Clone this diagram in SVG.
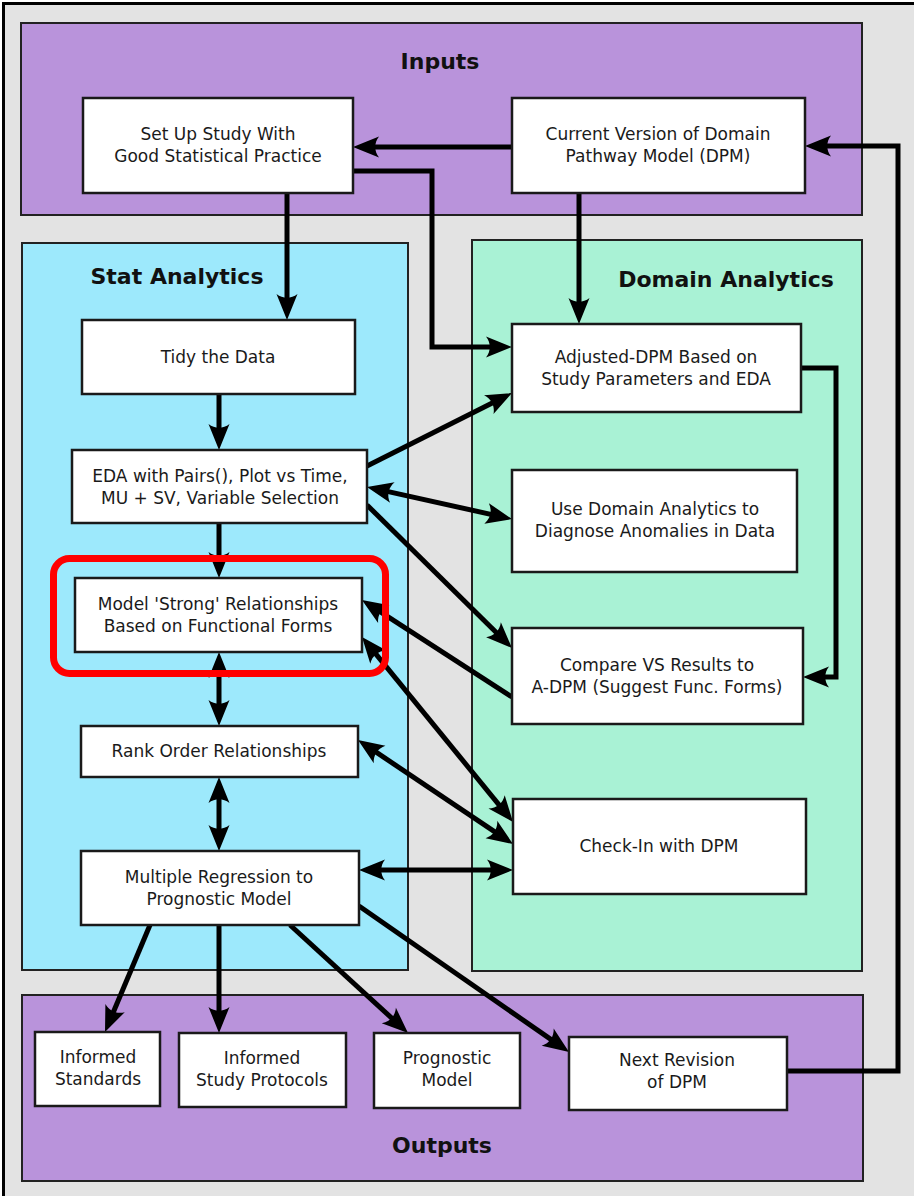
<svg xmlns="http://www.w3.org/2000/svg" width="914" height="1196" viewBox="0 0 914 1196">
  <style>
    .panel { stroke: #222; stroke-width: 2; }
    .box { fill: #ffffff; stroke: #1a1a1a; stroke-width: 2.5; }
    .lbl { font-family: "DejaVu Sans", "Liberation Sans", sans-serif; font-size: 17px; fill: #1a1a1a; text-anchor: middle; }
    .ttl { font-family: "DejaVu Sans", "Liberation Sans", sans-serif; font-size: 22px; font-weight: bold; fill: #111; text-anchor: middle; }
    .wire { fill: none; stroke: #000; stroke-width: 5; stroke-linejoin: miter; }
    .one { marker-end: url(#ah); }
    .two { marker-start: url(#ah); marker-end: url(#ah); }
  </style>
  <defs>
    <!-- barbed arrowhead; reference point sits 16px behind the tip -->
    <marker id="ah" markerUnits="userSpaceOnUse" viewBox="-12 -12 30 24" refX="0" refY="0" markerWidth="30" markerHeight="24" orient="auto-start-reverse" overflow="visible">
      <path d="M16,0 L-10,-10.5 C-5,-4 -5,4 -10,10.5 Z" fill="#000"/>
    </marker>
  </defs>

  <!-- frame -->
  <rect x="0" y="0" width="914" height="1196" fill="#ffffff"/>
  <rect x="3.5" y="3.5" width="960" height="1250" fill="#e3e3e3" stroke="#000" stroke-width="3"/>

  <!-- panels -->
  <g id="inputs">
    <rect class="panel" x="21" y="23" width="841" height="192" fill="#b993db"/>
    <text class="ttl" x="440" y="69">Inputs</text>
  </g>
  <g id="stat-analytics">
    <rect class="panel" x="22" y="243" width="386" height="727" fill="#9de9fc"/>
    <text class="ttl" x="177" y="284">Stat Analytics</text>
  </g>
  <g id="domain-analytics">
    <rect class="panel" x="472" y="240" width="390" height="731" fill="#a9f2d5"/>
    <text class="ttl" x="726" y="287">Domain Analytics</text>
  </g>
  <g id="outputs">
    <rect class="panel" x="22" y="995" width="841" height="186" fill="#b993db"/>
    <text class="ttl" x="442" y="1153">Outputs</text>
  </g>

  <!-- connectors -->
  <g id="connectors">
    <path class="wire one" d="M512,147 L369,147"/>
    <path class="wire one" d="M787,1071 L898,1071 L898,146 L821,146"/>
    <path class="wire one" d="M287,193 L287,304"/>
    <path class="wire one" d="M353,171 L432,171 L432,347 L496,347"/>
    <path class="wire one" d="M579,193 L579,308"/>
    <path class="wire one" d="M219,394 L219,434"/>
    <path class="wire one" d="M219,523 L219,562"/>
    <path class="wire two" d="M219,668 L219,710"/>
    <path class="wire two" d="M219,793 L219,835"/>
    <path class="wire one" d="M367,466 L497.7,400.2"/>
    <path class="wire two" d="M382.6,490.4 L496.4,515.6"/>
    <path class="wire one" d="M367,505 L500.6,636.8"/>
    <path class="wire one" d="M512,697 L375.4,608.7"/>
    <path class="wire two" d="M502.9,809.6 L372.1,649.4"/>
    <path class="wire two" d="M499.7,835.1 L371.3,748.9"/>
    <path class="wire two" d="M375,870 L497,870"/>
    <path class="wire one" d="M801,368 L836,368 L836,677 L819,677"/>
    <path class="wire one" d="M150,925 L111.2,1017.3"/>
    <path class="wire one" d="M219,925 L219,1017"/>
    <path class="wire one" d="M290,925 L396.2,1022.2"/>
    <path class="wire one" d="M359,906 L555.9,1042.9"/>
  </g>

  <!-- nodes -->
  <g id="setup">
    <rect class="box" x="83" y="98" width="270" height="95"/>
    <text class="lbl" x="218" y="140">Set Up Study With</text>
    <text class="lbl" x="218" y="162">Good Statistical Practice</text>
  </g>
  <g id="current-dpm">
    <rect class="box" x="512" y="98" width="293" height="95"/>
    <text class="lbl" x="658" y="140">Current Version of Domain</text>
    <text class="lbl" x="658" y="162">Pathway Model (DPM)</text>
  </g>
  <g id="tidy">
    <rect class="box" x="82" y="320" width="273" height="74"/>
    <text class="lbl" x="218" y="363">Tidy the Data</text>
  </g>
  <g id="eda">
    <rect class="box" x="72" y="450" width="295" height="73"/>
    <text class="lbl" x="220" y="482">EDA with Pairs(), Plot vs Time,</text>
    <text class="lbl" x="220" y="504">MU + SV, Variable Selection</text>
  </g>
  <g id="model-strong">
    <rect class="box" x="75" y="578" width="287" height="74"/>
    <text class="lbl" x="218" y="610">Model 'Strong' Relationships</text>
    <text class="lbl" x="218" y="632">Based on Functional Forms</text>
  </g>
  <g id="rank-order">
    <rect class="box" x="81" y="726" width="277" height="51"/>
    <text class="lbl" x="219" y="757">Rank Order Relationships</text>
  </g>
  <g id="multiple-regression">
    <rect class="box" x="81" y="851" width="278" height="74"/>
    <text class="lbl" x="219" y="883">Multiple Regression to</text>
    <text class="lbl" x="219" y="905">Prognostic Model</text>
  </g>
  <g id="adjusted-dpm">
    <rect class="box" x="512" y="324" width="289" height="88"/>
    <text class="lbl" x="656" y="363">Adjusted-DPM Based on</text>
    <text class="lbl" x="656" y="385">Study Parameters and EDA</text>
  </g>
  <g id="use-domain">
    <rect class="box" x="512" y="470" width="285" height="102"/>
    <text class="lbl" x="655" y="515">Use Domain Analytics to</text>
    <text class="lbl" x="655" y="537">Diagnose Anomalies in Data</text>
  </g>
  <g id="compare-vs">
    <rect class="box" x="512" y="628" width="291" height="96"/>
    <text class="lbl" x="657" y="671">Compare VS Results to</text>
    <text class="lbl" x="657" y="693">A-DPM (Suggest Func. Forms)</text>
  </g>
  <g id="check-in">
    <rect class="box" x="513" y="799" width="293" height="95"/>
    <text class="lbl" x="659" y="852">Check-In with DPM</text>
  </g>
  <g id="informed-standards">
    <rect class="box" x="35" y="1032" width="125" height="74"/>
    <text class="lbl" x="98" y="1063">Informed</text>
    <text class="lbl" x="98" y="1085">Standards</text>
  </g>
  <g id="informed-protocols">
    <rect class="box" x="179" y="1033" width="167" height="74"/>
    <text class="lbl" x="262" y="1064">Informed</text>
    <text class="lbl" x="262" y="1086">Study Protocols</text>
  </g>
  <g id="prognostic-model">
    <rect class="box" x="374" y="1033" width="146" height="75"/>
    <text class="lbl" x="447" y="1064">Prognostic</text>
    <text class="lbl" x="447" y="1086">Model</text>
  </g>
  <g id="next-revision">
    <rect class="box" x="569" y="1037" width="218" height="73"/>
    <text class="lbl" x="677" y="1066">Next Revision</text>
    <text class="lbl" x="677" y="1088">of DPM</text>
  </g>

  <!-- highlight -->
  <rect id="highlight" x="53.5" y="558.5" width="332" height="115" rx="16" fill="none" stroke="#ff0000" stroke-width="7"/>
</svg>
